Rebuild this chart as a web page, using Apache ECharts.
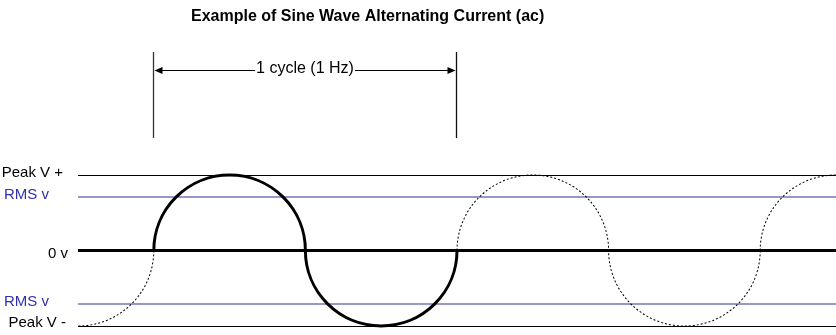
<!DOCTYPE html>
<html><head><meta charset="utf-8">
<script src="https://cdn.jsdelivr.net/npm/echarts@6/dist/echarts.min.js"></script>
<style>html,body{margin:0;padding:0;background:#fff}#c{width:836px;height:335px}</style>
</head><body><div id="c"></div>
<script>
// ---- data ----
const titleText = 'Example of Sine Wave Alternating Current (ac)';
const levelNames = ['Peak V +', 'RMS v', '0 v', 'RMS v', 'Peak V -'];
const levelValues = [1, 0.707, 0, -0.707, -1];
const halfCycleStart = [-0.5, 0, 0.5, 1, 1.5, 2];   // seconds
const halfCycleEnd = [0, 0.5, 1, 1.5, 2, 2.5];
const halfCyclePeak = [-1, 1, -1, 1, -1, 1];
const halfCycleHighlighted = [0, 1, 1, 0, 0, 0];
const cycleStart = 0, cycleEnd = 1;
const cycleLabel = '1 cycle (1 Hz)';
const timeMin = -0.25, timeMax = 2.25;

// ---- styles ----
const FONT = '"Liberation Sans", Arial, sans-serif';
const levelStyle = [
  { line: '#000', w: 1, text: '#000', right: 63, dy: -2 },
  { line: '#7676b6', w: 1.5, text: '#2f2fb2', right: 49, dy: -2.5 },
  { line: '#000', w: 3, text: '#000', right: 68, dy: 3 },
  { line: '#7676b6', w: 1.5, text: '#2f2fb2', right: 49, dy: -2 },
  { line: '#000', w: 1, text: '#000', right: 66, dy: -3 }
];

const chart = echarts.init(document.getElementById('c'), null, { renderer: 'canvas' });

const option = {
  animation: false,
  backgroundColor: '#fff',
  title: {
    text: titleText, left: 186, top: 4,
    textStyle: { fontFamily: FONT, fontSize: 16, fontWeight: 'bold', color: '#000' }
  },
  grid: { left: 78, right: 0, top: 175, bottom: 9 },
  xAxis: { type: 'value', min: timeMin, max: timeMax, show: false },
  yAxis: { type: 'value', min: -1, max: 1, show: false },
  series: [
    {
      type: 'custom', name: 'levels',
      data: levelValues.map(v => [0, v]),
      encode: { x: 0, y: 1 },
      renderItem: function (params, api) {
        const i = params.dataIndex;
        const s = levelStyle[i];
        const cs = params.coordSys;
        const yRaw = api.coord([0, api.value(1)])[1];
        const y = s.w === 1 ? Math.round(yRaw) + 0.5 : yRaw;
        return {
          type: 'group',
          children: [
            { type: 'line', shape: { x1: cs.x, y1: y, x2: cs.x + cs.width, y2: y },
              style: { stroke: s.line, lineWidth: s.w } },
            { type: 'text', style: { x: s.right, y: yRaw + s.dy, text: levelNames[i], align: 'right',
              verticalAlign: 'middle', fill: s.text, font: '15px ' + FONT } }
          ]
        };
      }
    },
    {
      type: 'custom', name: 'wave',
      data: halfCycleStart.map((t, i) => [t, halfCycleEnd[i], halfCyclePeak[i]]),
      encode: { x: [0, 1], y: 2 },
      renderItem: function (params, api) {
        const i = params.dataIndex;
        const cs = params.coordSys;
        const t0 = api.value(0), t1 = api.value(1), pk = api.value(2);
        const p0 = api.coord([t0, 0]), p1 = api.coord([t1, 0]);
        const pp = api.coord([(t0 + t1) / 2, pk]);
        const cx = (p0[0] + p1[0]) / 2, cy = p0[1];
        const rx = (p1[0] - p0[0]) / 2, ry = Math.abs(pp[1] - cy);
        const hl = halfCycleHighlighted[i] === 1;
        return {
          type: 'group',
          clipPath: { type: 'rect', shape: { x: cs.x, y: 0, width: cs.width, height: 335 } },
          children: [{
            type: 'arc', x: cx, y: cy, scaleX: rx / ry,
            shape: { cx: 0, cy: 0, r: ry,
              startAngle: pk > 0 ? Math.PI : 0, endAngle: pk > 0 ? 2 * Math.PI : Math.PI, clockwise: true },
            style: { fill: 'none', stroke: '#000', lineWidth: hl ? 3 : 1, lineDash: hl ? null : [2, 2],
              strokeNoScale: true }
          }]
        };
      }
    },
    {
      type: 'custom', name: 'cycle',
      data: [[cycleStart, cycleEnd]],
      encode: { x: [0, 1] },
      renderItem: function (params, api) {
        const x0 = Math.round(api.coord([api.value(0), 0])[0]) - 0.5;
        const x1 = Math.round(api.coord([api.value(1), 0])[0]) - 0.5;
        const yTop = 52, yBot = 138, ya = 70.5, ah = 8, aw = 3.5;
        return {
          type: 'group',
          children: [
            { type: 'line', shape: { x1: x0, y1: yTop, x2: x0, y2: yBot }, style: { stroke: '#333', lineWidth: 1.3 } },
            { type: 'line', shape: { x1: x1, y1: yTop, x2: x1, y2: yBot }, style: { stroke: '#111', lineWidth: 1.3 } },
            { type: 'line', shape: { x1: x0 + 2, y1: ya, x2: x1 - 2, y2: ya }, style: { stroke: '#000', lineWidth: 1 } },
            { type: 'polygon', shape: { points: [[x0 + 1, ya], [x0 + 1 + ah, ya - aw], [x0 + 1 + ah, ya + aw]] },
              style: { fill: '#000' } },
            { type: 'polygon', shape: { points: [[x1 - 1, ya], [x1 - 1 - ah, ya - aw], [x1 - 1 - ah, ya + aw]] },
              style: { fill: '#000' } },
            { type: 'text', style: { x: (x0 + x1) / 2, y: ya - 1.5, text: cycleLabel, align: 'center',
              verticalAlign: 'middle', fill: '#000', font: '16px ' + FONT,
              backgroundColor: '#fff', padding: [0, 1] } }
          ]
        };
      }
    }
  ]
};
chart.setOption(option);
</script>
</body></html>
